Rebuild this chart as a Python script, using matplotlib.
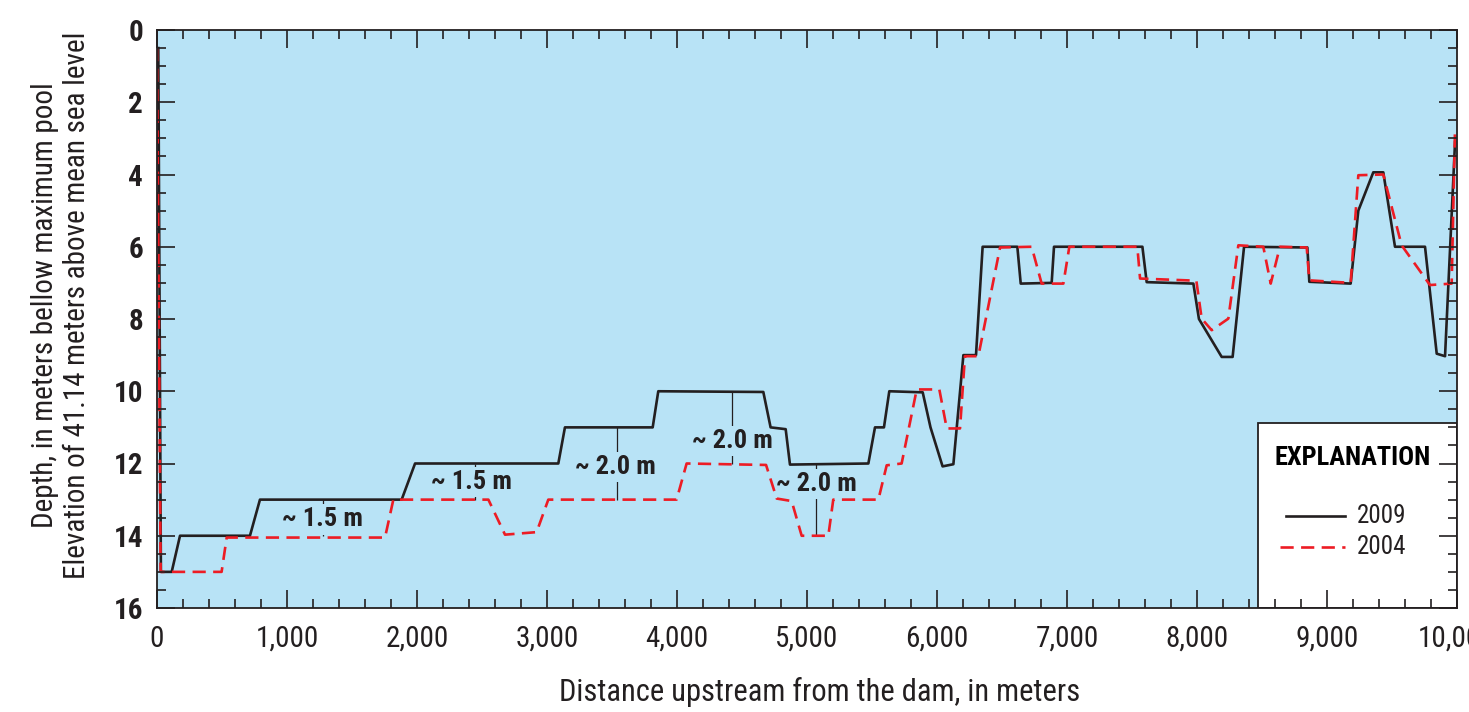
"""
Depth profile upstream from the dam, 2009 vs 2004 surveys
"""
import matplotlib
matplotlib.use('Agg')
import matplotlib.pyplot as plt
from matplotlib import font_manager
from matplotlib.patches import Rectangle
from matplotlib.lines import Line2D
from matplotlib.ticker import MultipleLocator, FuncFormatter

# the original uses a condensed face (Univers Condensed); take the first narrow one found
names = {f.name for f in font_manager.fontManager.ttflist}
wanted = ['Roboto Condensed', 'Archivo Narrow', 'PT Sans Narrow', 'Liberation Sans Narrow',
          'Barlow Semi Condensed', 'Liberation Sans']
found = [n for n in wanted if n in names]
plt.rcParams['font.family'] = found[:1] + ['DejaVu Sans']

# 2009 survey (black solid)
x_2009 = [10, 30, 113, 177, 715, 792, 1882, 1985, 3087, 3138, 3813, 3856, 4664, 4720,
          4836, 4869, 5472, 5523, 5592, 5633, 5890, 5950, 6043, 6126, 6203, 6300, 6351,
          6618, 6644, 6882, 6900, 7580, 7613, 7972, 8015, 8190, 8274, 8362, 8849, 8864,
          9182, 9241, 9356, 9433, 9523, 9754, 9844, 9908, 9985]
d_2009 = [0.5, 15, 15, 14, 14, 13, 13, 12, 12, 11, 11, 10, 10.02, 11,
          11.05, 12.03, 12, 11, 11, 10, 10.03, 11, 12.08, 12.02, 9, 9, 6,
          6, 7.02, 7, 6, 6, 6.98, 7.02, 8.0, 9.05, 9.05, 6, 6.02, 6.97,
          7.02, 5, 3.94, 3.94, 6, 6, 8.96, 9.03, 3.1]

# 2004 survey (red dashed)
x_2004 = [0, 28, 497, 536, 1754, 1818, 2549, 2677, 2920, 3010, 3997, 4074, 4685, 4767,
          4882, 4959, 5164, 5202, 5549, 5613, 5728, 5844, 6018, 6075, 6177, 6215, 6318,
          6485, 6728, 6805, 6972, 7018, 7541, 7562, 7995, 8036, 8113, 8241, 8318, 8510,
          8567, 8638, 8844, 8864, 9182, 9241, 9433, 9574, 9792, 9959, 9985]
d_2004 = [0.5, 15, 15, 14.05, 14.05, 13, 13, 13.97, 13.9, 13, 13, 12, 12.04, 12.97,
          13.04, 14, 14, 13, 13, 12.05, 12, 9.95, 9.95, 11.03, 11.03, 9.03, 9.03,
          6.02, 6, 7.02, 7.02, 6, 6, 6.88, 6.94, 7.99, 8.31, 7.99, 5.96, 6,
          7.02, 6, 6.02, 6.93, 7.0, 4.02, 4.0, 5.96, 7.06, 7.02, 2.7]

# difference markers
diff_x = [1275, 2446, 3536, 4426, 5069]
diff_top = [13, 12, 11, 10, 12]
diff_bot = [14, 13, 13, 12, 14]
diff_label_y = [13.55, 12.52, 12.1, 11.38, 12.56]
diff_label_x = [1275, 2420, 3530, 4426, 5069]
diff_labels = ['~ 1.5 m', '~ 1.5 m', '~ 2.0 m', '~ 2.0 m', '~ 2.0 m']

bg = '#b8e3f6'

fig = plt.figure(figsize=(14.69, 7.12), dpi=100)
ax = fig.add_axes([157/1469, 1-608/712, 1300/1469, 578/712])
ax.set_facecolor(bg)
ax.set_axisbelow(False)

ax.plot(x_2009, d_2009, color='#231f20', lw=1.9, zorder=2)
ax.plot(x_2004, d_2004, color='#ed1c24', lw=1.9, dashes=(5, 2.8), zorder=2.1)

for xv, t, b, ly, lx, lab in zip(diff_x, diff_top, diff_bot, diff_label_y, diff_label_x, diff_labels):
    ax.vlines(xv, t, b, color='#231f20', lw=0.9, zorder=1.8)
    ax.text(lx, ly, lab, ha='center', va='center', fontsize=19, fontweight='bold',
            color='#231f20', zorder=1.9,
            bbox=dict(boxstyle='square,pad=0.12', facecolor=bg, edgecolor='none'))

ax.set_xlim(0, 10000)
ax.set_ylim(16, 0)
ax.xaxis.set_major_locator(MultipleLocator(1000))
ax.xaxis.set_minor_locator(MultipleLocator(200))
ax.yaxis.set_major_locator(MultipleLocator(2))
ax.yaxis.set_minor_locator(MultipleLocator(0.5))
ax.xaxis.set_major_formatter(FuncFormatter(lambda v, p: f'{int(v):,}'))
ax.tick_params(which='both', direction='in', top=True, right=True, color='#231f20', width=1.2)
ax.tick_params(which='major', length=13)
ax.tick_params(which='minor', length=6.5)
ax.tick_params(axis='x', which='major', labelsize=21, pad=12, labelcolor='#231f20')
ax.tick_params(axis='y', which='major', labelsize=21, pad=10, labelcolor='#231f20')
for lab in ax.get_yticklabels():
    lab.set_fontweight('bold')
for s in ax.spines.values():
    s.set_color('#231f20')
    s.set_linewidth(1.3)

# explanation box
ax.add_patch(Rectangle((0.847, 0), 0.153, 0.32, transform=ax.transAxes, facecolor='white',
                       edgecolor='#231f20', lw=1.3, zorder=2.2))
ax.text(0.9196, 0.26, 'EXPLANATION', transform=ax.transAxes, ha='center', va='center',
        fontsize=19, fontweight='bold', color='black', zorder=3)
ax.add_line(Line2D([0.8685, 0.914], [0.159, 0.159], transform=ax.transAxes,
                   color='#231f20', lw=1.9, zorder=3))
ax.add_line(Line2D([0.8638, 0.914], [0.105, 0.105], transform=ax.transAxes,
                   color='#ed1c24', lw=1.9, dashes=(5, 2.8), zorder=3))
ax.text(0.923, 0.159, '2009', transform=ax.transAxes, ha='left', va='center',
        fontsize=18, color='#231f20', zorder=3)
ax.text(0.923, 0.105, '2004', transform=ax.transAxes, ha='left', va='center',
        fontsize=18, color='#231f20', zorder=3)

fig.text(820/1469, 1-692/712, 'Distance upstream from the dam, in meters', ha='center',
         va='center', fontsize=22, color='#231f20')
fig.text(61/1469, 1-305/712,
         'Depth, in meters bellow maximum pool\nElevation of 41.14 meters above mean sea level',
         rotation=90, ha='center', va='center', multialignment='center', fontsize=21,
         color='#231f20', linespacing=1.2)

fig.savefig('out.png', dpi=100)
